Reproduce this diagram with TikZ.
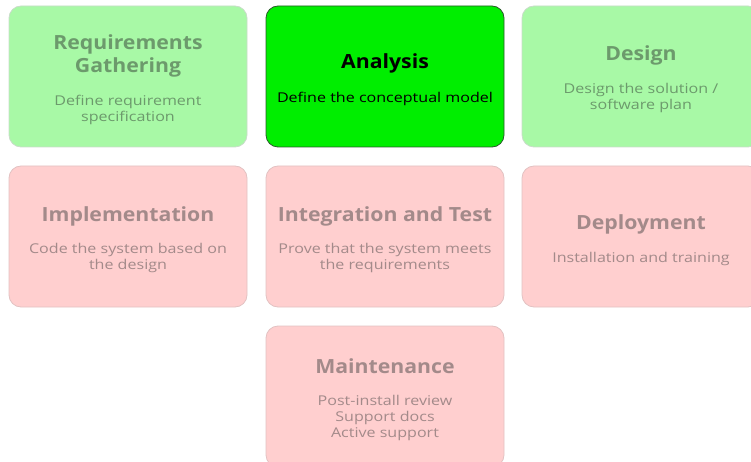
\documentclass[tikz,border=0pt]{standalone}
\usepackage{fontspec}
\setmainfont{Open Sans}
\newfontfamily\ttlfamily[FakeStretch=1.09]{Open Sans}
\newfontfamily\subfamily[FakeStretch=1.19]{Open Sans}
\definecolor{lgfill}{HTML}{A8F9A6}
\definecolor{lgtext}{HTML}{6C9A6C}
\definecolor{lgdraw}{HTML}{C9DCC9}
\definecolor{bgfill}{HTML}{00EE00}
\definecolor{bgdraw}{HTML}{2A5A2A}
\definecolor{pkfill}{HTML}{FFCFCF}
\definecolor{pktext}{HTML}{A38A8A}
\definecolor{pkdraw}{HTML}{E2C2C2}
\tikzset{
  box/.style={rectangle, rounded corners=12pt, minimum width=238pt, minimum height=141pt, line width=0.8pt, inner sep=0pt},
  lgbox/.style={box, fill=lgfill, draw=lgdraw},
  bgbox/.style={box, fill=bgfill, draw=bgdraw},
  pkbox/.style={box, fill=pkfill, draw=pkdraw},
  ttl/.style={align=center, font=\ttlfamily\bfseries\fontsize{19.5}{23}\selectfont, inner sep=0pt},
  sub/.style={align=center, font=\subfamily\fontsize{13.5}{16}\selectfont, inner sep=0pt},
}
\begin{document}
\begin{tikzpicture}[x=1pt,y=-1pt]
\useasboundingbox (0,0) rectangle (751,462);
\clip (0,0) rectangle (751,462);
% row 1
\node[lgbox] (req) at (128,76.5) {};
\node[ttl, text=lgtext] (reqT) at (128,55.5) {Requirements\\Gathering};
\node[sub, text=lgtext] (reqS) at (128,109.5) {Define requirement\\specification};
\node[bgbox] (ana) at (385,76.5) {};
\node[ttl, text=black] (anaT) at (385,63) {Analysis};
\node[sub, text=black] (anaS) at (385,98.5) {Define the conceptual model};
\node[lgbox] (des) at (641,76.5) {};
\node[ttl, text=lgtext] (desT) at (641,55) {Design};
\node[sub, text=lgtext] (desS) at (641,97.5) {Design the solution /\\software plan};
% row 2
\node[pkbox] (imp) at (128,236.5) {};
\node[ttl, text=pktext] (impT) at (128,216) {Implementation};
\node[sub, text=pktext] (impS) at (128,258) {Code the system based on\\the design};
\node[pkbox] (int) at (385,236.5) {};
\node[ttl, text=pktext] (intT) at (385,216) {Integration and Test};
\node[sub, text=pktext] (intS) at (385,258) {Prove that the system meets\\the requirements};
\node[pkbox] (dep) at (641,236.5) {};
\node[ttl, text=pktext] (depT) at (641,224) {Deployment};
\node[sub, text=pktext] (depS) at (641,258.5) {Installation and training};
% row 3
\node[pkbox] (mai) at (385,396.5) {};
\node[ttl, text=pktext] (maiT) at (385,366) {Maintenance};
\node[sub, text=pktext] (maiS) at (385,417.5) {Post-install review\\Support docs\\Active support};
\end{tikzpicture}
\end{document}
